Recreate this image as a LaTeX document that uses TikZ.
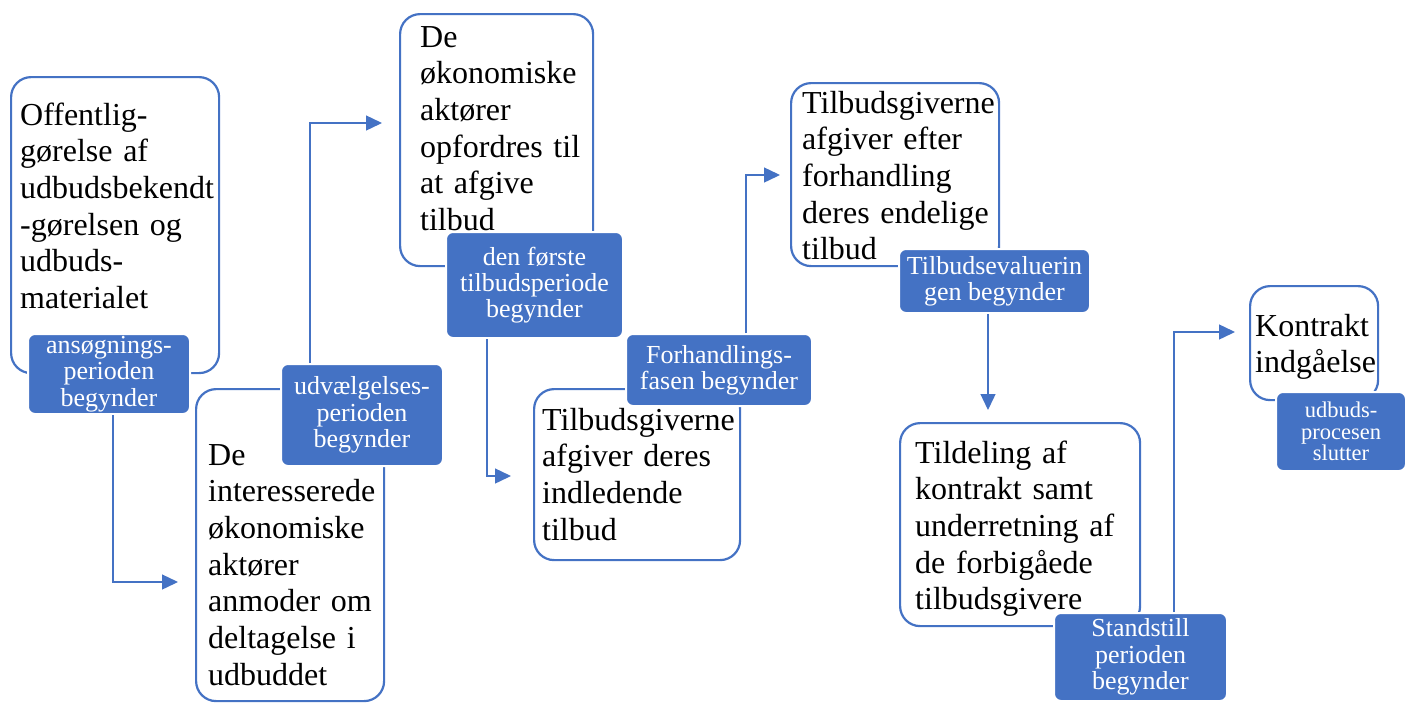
\documentclass[tikz,border=0pt]{standalone}
\usepackage{fontspec}
\setmainfont{Liberation Serif}
\usetikzlibrary{arrows.meta}
\definecolor{udbudblue}{HTML}{4472C4}
\tikzset{
  whitebox/.style={draw=udbudblue, line width=2.2pt, rounded corners=20pt, fill=white, inner sep=0pt, anchor=north west},
  boxtext/.style={anchor=base west, inner sep=0pt, text width=240pt, align=left, font=\fontsize{32}{36.7}\selectfont},
  bluebox/.style={draw=white, line width=2pt, fill=udbudblue, rounded corners=7pt, text=white, align=center, inner sep=0pt, anchor=north west, font=\fontsize{26}{26.3}\selectfont},
  conn/.style={draw=udbudblue, line width=1.4pt, -{Triangle[length=16pt,width=15pt]}},
}

\begin{document}
\begin{tikzpicture}[x=1pt,y=-1pt]
\useasboundingbox (0,0) rectangle (1405,702);
%% hvide bokse
\node[whitebox, minimum width=208, minimum height=296] (offentlig) at (10,76) {};
\node[whitebox, minimum width=188, minimum height=312] (interesserede) at (195,388) {};
\node[whitebox, minimum width=193, minimum height=252] (opfordres) at (399,13) {};
\node[whitebox, minimum width=206, minimum height=171] (indledende) at (533,388) {};
\node[whitebox, minimum width=208, minimum height=183] (endelige) at (790,82) {};
\node[whitebox, minimum width=240, minimum height=203] (tildeling) at (899,422) {};
\node[whitebox, minimum width=128, minimum height=114] (kontrakt) at (1249,285) {};
%% tekst i de hvide bokse
\node[boxtext] (offentligtxt) at (20,125) {Offentlig-\\gørelse af\\udbudsbekendt\\-gørelsen og\\udbuds-\\materialet};
\node[boxtext] (interessereditxt) at (208,465) {De\\interesserede\\økonomiske\\aktører\\anmoder om\\deltagelse i\\udbuddet};
\node[boxtext] (opfordrestxt) at (420,47) {De\\økonomiske\\aktører\\opfordres til\\at afgive\\tilbud};
\node[boxtext] (indledendetxt) at (542,430) {Tilbudsgiverne\\afgiver deres\\indledende\\tilbud};
\node[boxtext] (endeligetxt) at (802,113) {Tilbudsgiverne\\afgiver efter\\forhandling\\deres endelige\\tilbud};
\node[boxtext] (tildelingtxt) at (915,463) {Tildeling af\\kontrakt samt\\underretning af\\de forbigåede\\tilbudsgivere};
\node[boxtext] (kontrakttxt) at (1255,336) {Kontrakt\\indgåelse};
%% blaa bokse
\node[bluebox, minimum width=162, minimum height=80] (ansoegning) at (27,333) {ansøgnings-\\perioden\\begynder};
\node[bluebox, minimum width=162, minimum height=102] (udvaelgelse) at (280,363) {udvælgelses-\\perioden\\begynder};
\node[bluebox, minimum width=177, minimum height=106] (tilbudsperiode) at (445,231) {den første\\tilbudsperiode\\begynder};
\node[bluebox, minimum width=186, minimum height=72] (forhandling) at (625,333) {Forhandlings-\\fasen begynder};
\node[bluebox, minimum width=191, minimum height=64] (evaluering) at (898,248) {Tilbudsevaluerin\\gen begynder};
\node[bluebox, minimum width=173, minimum height=88] (standstill) at (1053,612) {Standstill\\perioden\\begynder};
\node[bluebox, minimum width=130, minimum height=79, font=\fontsize{22.5}{21.5}\selectfont] (slut) at (1275,391) {udbuds-\\procesen\\slutter};
%% pile
\coordinate (tip1) at (178,582);
\coordinate (tip2) at (382,123);
\coordinate (tip3) at (511,476);
\coordinate (tip4) at (780,175);
\coordinate (tip5) at (988,410);
\coordinate (tip6) at (1235,332);
\draw[conn] ([xshift=4pt]ansoegning.south) |- (tip1);
\draw[conn] ([xshift=-52pt]udvaelgelse.north) |- (tip2);
\draw[conn] ([xshift=-47.5pt]tilbudsperiode.south) |- (tip3);
\draw[conn] ([xshift=27pt]forhandling.north) |- (tip4);
\draw[conn] (evaluering.south -| tip5) -- (tip5);
\draw[conn] ([xshift=33.5pt]standstill.north) |- (tip6);
\end{tikzpicture}
\end{document}
